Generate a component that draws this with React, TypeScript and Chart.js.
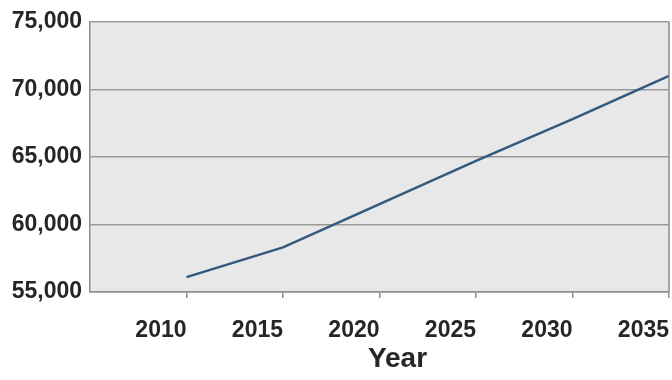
import React, { useEffect, useRef } from "react";
import { Chart, registerables } from "chart.js";

Chart.register(...registerables);

const years = [2010, 2015, 2020, 2025, 2030, 2035];
const population = [56100, 58300, 61500, 64700, 67800, 71000];
const xTicks = [2010, 2015, 2020, 2025, 2030, 2035];
const yTicks = [55000, 60000, 65000, 70000, 75000];
const xTitle = "Year";

const plotBg = {
  id: "plotBg",
  beforeDraw(chart: any) {
    const { ctx, chartArea: a } = chart;
    ctx.save();
    ctx.fillStyle = "#ffffff";
    ctx.fillRect(0, 0, chart.width, chart.height);
    ctx.fillStyle = "#e8e8e8";
    ctx.fillRect(a.left, a.top, a.right - a.left, a.bottom - a.top);
    ctx.restore();
  },
  afterDraw(chart: any) {
    const { ctx, chartArea: a } = chart;
    ctx.save();
    ctx.strokeStyle = "#8c8c8c";
    ctx.lineWidth = 1.5;
    ctx.beginPath();
    ctx.moveTo(a.right, a.top);
    ctx.lineTo(a.right, a.bottom);
    ctx.stroke();
    ctx.fillStyle = "#262626";
    ctx.font = "bold 28px 'Liberation Sans', Arial, sans-serif";
    ctx.textAlign = "center";
    ctx.textBaseline = "middle";
    ctx.fillText(xTitle, a.left + (a.right - a.left) / 2 + 18, 359);
    ctx.restore();
  },
};

export default function App() {
  const ref = useRef<HTMLCanvasElement>(null);
  useEffect(() => {
    const chart = new Chart(ref.current!, {
      type: "line",
      data: {
        datasets: [
          {
            data: years.map((y, i) => ({ x: y, y: population[i] })),
            borderColor: "#33597f",
            borderWidth: 2.5,
            pointRadius: 0,
            tension: 0,
          },
        ],
      },
      options: {
        animation: false,
        responsive: false,
        layout: { padding: { top: 20, right: 3, left: 0, bottom: 0 } },
        plugins: { legend: { display: false }, tooltip: { enabled: false } },
        scales: {
          x: {
            type: "linear",
            min: 2005,
            max: 2035,
            afterBuildTicks(scale: any) {
              scale.ticks = xTicks.map((v) => ({ value: v }));
            },
            afterFit(scale: any) {
              scale.height = 88;
              scale.paddingRight = 0;
              scale.paddingLeft = 0;
            },
            grid: {
              drawOnChartArea: false,
              drawTicks: true,
              tickLength: 6,
              color: "#8c8c8c",
              lineWidth: 1.5,
            },
            border: { color: "#8c8c8c", width: 1.5 },
            ticks: {
              align: "end",
              padding: 19,
              color: "#262626",
              font: { family: "'Liberation Sans', Arial, sans-serif", size: 23, weight: "bold" },
              callback: (v: any) => String(v),
            },
          },
          y: {
            min: 55000,
            max: 75000,
            afterBuildTicks(scale: any) {
              scale.ticks = yTicks.map((v) => ({ value: v }));
            },
            afterFit(scale: any) {
              scale.width = 90;
            },
            grid: {
              drawTicks: false,
              color: "#999999",
              lineWidth: 1.5,
            },
            border: { color: "#8c8c8c", width: 1.5 },
            ticks: {
              padding: 8,
              color: "#262626",
              font: { family: "'Liberation Sans', Arial, sans-serif", size: 23, weight: "bold" },
              callback: (v: any) => Number(v).toLocaleString("en-US"),
            },
          },
        },
      },
      plugins: [plotBg],
    });
    return () => chart.destroy();
  }, []);
  return (
    <div style={{ position: "fixed", left: 0, top: 0, width: 672, height: 380, background: "#fff" }}>
      <canvas ref={ref} width={672} height={380} style={{ display: "block" }} />
    </div>
  );
}
